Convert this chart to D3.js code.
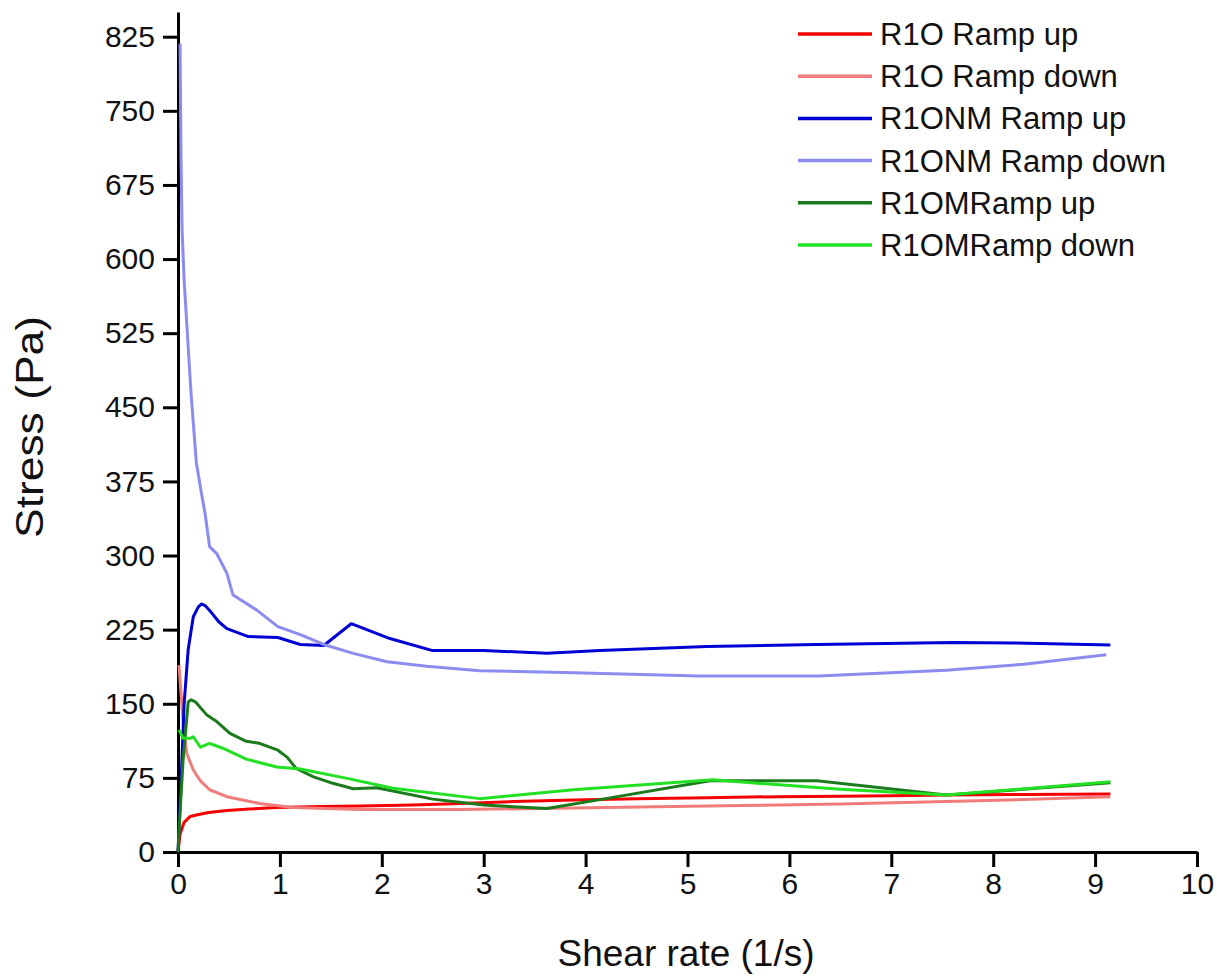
<!DOCTYPE html>
<html>
<head>
<meta charset="utf-8">
<script src="https://cdn.jsdelivr.net/npm/d3@7/dist/d3.min.js"></script>
<style>
  html, body { margin: 0; padding: 0; background: #fff; }
  svg { display: block; }
  text { font-family: Arial, "Liberation Sans", sans-serif; fill: #111; }
</style>
</head>
<body>
<svg id="chart" width="1217" height="976"></svg>
<script>
// Tick values
const xTicks = [0, 1, 2, 3, 4, 5, 6, 7, 8, 9, 10];
const yTicks = [0, 75, 150, 225, 300, 375, 450, 525, 600, 675, 750, 825];

// Series names and colours
const seriesNames = ["R1O Ramp up", "R1O Ramp down", "R1ONM Ramp up", "R1ONM Ramp down", "R1OMRamp up", "R1OMRamp down"];
const seriesColors = ["#f50000", "#f07c7c", "#0000d4", "#8c8cf0", "#1b7a1b", "#22e022"];

// R1O ramp up
const shearR1OUp  = [0, 0.02, 0.06, 0.12, 0.18, 0.3, 0.48, 0.7, 0.97, 1.4, 1.79, 2.3, 2.77, 3.3, 3.88, 4.5, 5.19, 5.9, 6.5, 7.0, 7.54, 8.3, 9.15];
const stressR1OUp = [0, 18, 30, 36, 37.5, 40, 42, 43.5, 45, 46, 46.5, 47.5, 49, 51, 52.5, 54, 55, 56, 56.5, 57, 57.7, 58.2, 58.7];

// R1O ramp down
const shearR1ODown  = [0.01, 0.03, 0.05, 0.085, 0.15, 0.22, 0.31, 0.48, 0.8, 1.13, 1.79, 2.77, 3.88, 5.19, 6.5, 7.54, 8.3, 9.15];
const stressR1ODown = [189, 160, 133, 100, 83, 72, 63, 56, 49, 45, 43, 43, 44.5, 46.5, 48.6, 51, 53, 56];

// R1ONM ramp up
const shearR1ONMUp  = [0, 0.03, 0.06, 0.1, 0.15, 0.2, 0.23, 0.27, 0.33, 0.4, 0.48, 0.69, 0.98, 1.2, 1.43, 1.7, 2.08, 2.49, 3.0, 3.62, 4.14, 5.19, 6.27, 7.61, 8.2, 9.15];
const stressR1ONMUp = [0, 70, 150, 205, 238, 248, 251, 249, 242, 233, 226, 218, 217, 210, 209, 231, 216, 204, 204, 201, 204, 208, 210, 212, 211.5, 209.5];

// R1ONM ramp down
const shearR1ONMDown  = [0.02, 0.025, 0.03, 0.04, 0.06, 0.1, 0.13, 0.18, 0.23, 0.265, 0.31, 0.38, 0.48, 0.54, 0.77, 0.98, 1.2, 1.43, 1.72, 2.05, 2.44, 2.96, 3.88, 5.12, 6.3, 6.5, 7.54, 8.3, 9.11];
const stressR1ONMDown = [818, 760, 700, 630, 579, 511, 461, 394, 363, 343, 309, 302, 282, 260, 245, 228, 220, 210, 201, 192.5, 188, 183.5, 181.5, 178, 178, 179, 184, 190, 199.5];

// R1OM ramp up
const shearR1OMUp  = [0, 0.02, 0.05, 0.1, 0.13, 0.17, 0.28, 0.38, 0.51, 0.67, 0.8, 0.98, 1.07, 1.16, 1.33, 1.52, 1.72, 1.95, 2.5, 3.0, 3.62, 4.14, 5.22, 6.27, 7.54, 9.15];
const stressR1OMUp = [0, 40, 93, 152, 154, 152, 139, 132, 120, 112, 110, 103, 96, 84.5, 76, 69.5, 64, 65, 53.5, 47.5, 44, 53, 72, 72, 57.7, 70];

// R1OM ramp down
const shearR1OMDown  = [0.01, 0.05, 0.12, 0.15, 0.22, 0.31, 0.44, 0.67, 0.97, 1.2, 1.66, 2.11, 2.96, 3.88, 5.25, 6.5, 7.54, 9.15];
const stressR1OMDown = [123.5, 115, 115, 116.6, 106, 110, 105, 94, 86, 84, 74.5, 64.5, 54, 63, 73, 63.4, 57.7, 71];

const seriesX = [shearR1OUp, shearR1ODown, shearR1ONMUp, shearR1ONMDown, shearR1OMUp, shearR1OMDown];
const seriesY = [stressR1OUp, stressR1ODown, stressR1ONMUp, stressR1ONMDown, stressR1OMUp, stressR1OMDown];

const svg = d3.select("#chart");

const x = d3.scaleLinear().domain([0, 10]).range([178, 1197]);
const y = d3.scaleLinear().domain([0, 850]).range([852, 12]);

// Axes
const xAxis = svg.append("g")
  .attr("transform", `translate(0,${y(0)})`)
  .call(d3.axisBottom(x).tickValues(xTicks).tickSize(15).tickSizeOuter(0).tickPadding(6).tickFormat(d3.format("d")));
const yAxis = svg.append("g")
  .attr("transform", `translate(${x(0)},0)`)
  .call(d3.axisLeft(y).tickValues(yTicks).tickSize(15).tickSizeOuter(0).tickPadding(8).tickFormat(d3.format("d")));

[xAxis, yAxis].forEach(g => {
  g.select(".domain").attr("stroke", "#000").attr("stroke-width", 3);
  g.selectAll(".tick line").attr("stroke", "#000").attr("stroke-width", 3);
  g.selectAll(".tick text")
    .style("font-family", "Arial, 'Liberation Sans', sans-serif")
    .style("font-size", "30px")
    .attr("fill", "#111");
});

// Data lines
const line = d3.line().x(d => x(d[0])).y(d => y(d[1]));
seriesNames.forEach((name, i) => {
  const pts = seriesX[i].map((v, k) => [v, seriesY[i][k]]);
  svg.append("path")
    .datum(pts)
    .attr("fill", "none")
    .attr("stroke", seriesColors[i])
    .attr("stroke-width", 3)
    .attr("stroke-linejoin", "round")
    .attr("d", line);
});

// Axis titles
svg.append("text")
  .attr("x", 686)
  .attr("y", 966)
  .attr("text-anchor", "middle")
  .style("font-size", "37px")
  .text("Shear rate (1/s)");

svg.append("text")
  .attr("transform", "translate(43,427) rotate(-90)")
  .attr("text-anchor", "middle")
  .attr("textLength", 222)
  .attr("lengthAdjust", "spacingAndGlyphs")
  .style("font-size", "39px")
  .text("Stress (Pa)");

// Legend
const legend = svg.append("g");
seriesNames.forEach((name, i) => {
  const cy = 34 + i * 42.2;
  legend.append("line")
    .attr("x1", 798).attr("x2", 872)
    .attr("y1", cy).attr("y2", cy)
    .attr("stroke", seriesColors[i])
    .attr("stroke-width", 3.5);
  legend.append("text")
    .attr("x", 880)
    .attr("y", cy + 11)
    .style("font-size", "31px")
    .text(name);
});
</script>
</body>
</html>
